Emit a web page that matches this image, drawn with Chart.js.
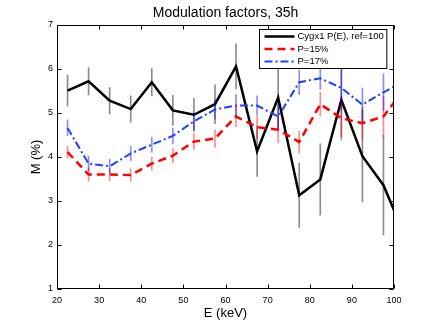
<!DOCTYPE html>
<html>
<head>
<meta charset="utf-8">
<script src="https://cdn.jsdelivr.net/npm/chart.js@4.4.1/dist/chart.umd.min.js"></script>
<style>
  html, body { margin: 0; padding: 0; background: #fff; }
</style>
</head>
<body>
<canvas id="chart" width="436" height="328"></canvas>
<script>
// energy bins, keV
const energy = [22.5, 27.5, 32.5, 37.5, 42.5, 47.5, 52.5, 57.5, 62.5, 67.5, 72.5, 77.5, 82.5, 87.5, 92.5, 97.5, 100];

// Cygx1 P(E), ref=100
const cygx1    = [5.51, 5.72, 5.28, 5.09, 5.70, 5.06, 4.96, 5.20, 6.06, 4.13, 5.35, 3.13, 3.49, 5.30, 4.02, 3.36, 2.79];
const cygx1Err = [0.35, 0.31, 0.30, 0.30, 0.31, 0.34, 0.38, 0.44, 0.51, 0.57, 0.68, 0.73, 0.81, 0.85, 1.04, 1.13, null];

// P=15%
const p15    = [4.11, 3.60, 3.60, 3.59, 3.85, 4.03, 4.35, 4.42, 4.92, 4.68, 4.62, 4.34, 5.20, 4.88, 4.77, 4.92, 5.24];
const p15Err = [0.13, 0.15, 0.14, 0.14, 0.15, 0.16, 0.18, 0.20, 0.23, 0.25, 0.30, 0.25, 0.27, 0.50, 0.37, 0.46, null];

// P=17%
const p17    = [4.66, 3.85, 3.79, 4.08, 4.28, 4.48, 4.81, 5.08, 5.17, 5.17, 4.92, 5.70, 5.79, 5.57, 5.19, 5.47, 5.60];
const p17Err = [0.18, 0.17, 0.16, 0.16, 0.17, 0.18, 0.20, 0.22, 0.25, 0.22, 0.28, 0.28, 0.25, 0.50, 0.38, 0.42, null];

const labels = ['Cygx1 P(E), ref=100', 'P=15%', 'P=17%'];

const FONT = "'Liberation Sans', Arial, Helvetica, sans-serif";
Chart.defaults.font.family = FONT;
Chart.defaults.color = '#000';

function points(vals) {
  return energy.map((e, i) => ({ x: e, y: vals[i] }));
}
// error bars as floating 1px bars
function errBars(vals, errs) {
  return energy
    .map((e, i) => errs[i] == null ? null : { x: e, y: [vals[i] - errs[i], vals[i] + errs[i]] })
    .filter(Boolean);
}

// matlab style box with inward ticks
const frame = {
  id: 'frame',
  afterDraw(chart) {
    const { ctx, chartArea: a, scales: { x, y } } = chart;
    const L = Math.round(a.left) + 0.5, R = Math.round(a.right) - 0.5;
    const T = Math.round(a.top) + 0.5, B = Math.round(a.bottom) - 0.5;
    ctx.save();
    ctx.strokeStyle = '#000';
    ctx.lineWidth = 1;
    ctx.beginPath();
    x.ticks.forEach(t => {
      const px = Math.round(x.getPixelForValue(t.value)) + 0.5;
      ctx.moveTo(px, B); ctx.lineTo(px, B - 4);
      ctx.moveTo(px, T); ctx.lineTo(px, T + 4);
    });
    y.ticks.forEach(t => {
      const py = Math.round(y.getPixelForValue(t.value)) + 0.5;
      ctx.moveTo(L, py); ctx.lineTo(L + 4, py);
      ctx.moveTo(R, py); ctx.lineTo(R - 4, py);
    });
    ctx.stroke();
    ctx.strokeRect(L, T, R - L, B - T);
    ctx.restore();
  }
};

// legend box in the upper right corner of the axes
const legendBox = {
  id: 'legendBox',
  afterDraw(chart) {
    const { ctx, chartArea: a } = chart;
    const items = chart.data.datasets.filter(d => d.type === 'line');
    ctx.save();
    ctx.font = '9.5px ' + FONT;
    const tw = Math.max(...items.map(d => ctx.measureText(d.label).width));
    const w = 38 + tw + 3, h = 39;
    const x0 = Math.round(a.right - 8 - w) + 0.5, y0 = Math.round(a.top + 4) + 0.5;
    ctx.fillStyle = '#fff';
    ctx.fillRect(x0, y0, w, h);
    ctx.strokeStyle = '#000';
    ctx.lineWidth = 1;
    ctx.strokeRect(x0, y0, w, h);
    items.forEach((d, i) => {
      const yy = y0 + 7 + i * 12.5;
      ctx.beginPath();
      ctx.strokeStyle = d.borderColor;
      ctx.lineWidth = d.borderWidth;
      ctx.setLineDash(d.borderDash || []);
      ctx.moveTo(x0 + 5, yy);
      ctx.lineTo(x0 + 35, yy);
      ctx.stroke();
      ctx.setLineDash([]);
      ctx.fillStyle = '#000';
      ctx.textBaseline = 'middle';
      ctx.fillText(d.label, x0 + 38, yy);
    });
    ctx.restore();
  }
};

new Chart(document.getElementById('chart'), {
  data: {
    datasets: [
      { type: 'bar', data: errBars(cygx1, cygx1Err), backgroundColor: 'rgba(0,0,0,0.45)', barThickness: 1, grouped: false, order: 6 },
      { type: 'line', label: labels[0], data: points(cygx1), borderColor: '#000', borderWidth: 2.5, pointRadius: 0, tension: 0, order: 5 },
      { type: 'bar', data: errBars(p15, p15Err), backgroundColor: 'rgba(255,0,0,0.45)', barThickness: 1, grouped: false, order: 4 },
      { type: 'line', label: labels[1], data: points(p15), borderColor: '#ff0000', borderWidth: 2.5, borderDash: [8, 5], pointRadius: 0, tension: 0, order: 3 },
      { type: 'bar', data: errBars(p17, p17Err), backgroundColor: 'rgba(0,0,255,0.45)', barThickness: 1, grouped: false, order: 2 },
      { type: 'line', label: labels[2], data: points(p17), borderColor: '#2040ff', borderWidth: 2, borderDash: [8, 3, 2, 3], pointRadius: 0, tension: 0, order: 1 }
    ]
  },
  options: {
    responsive: false,
    animation: false,
    layout: { padding: { left: 0, right: 42, top: 0, bottom: 0 } },
    plugins: {
      legend: { display: false },
      tooltip: { enabled: false },
      title: {
        display: true,
        text: 'Modulation factors, 35h',
        fullSize: false,
        color: '#000',
        font: { size: 14, weight: 'normal' },
        padding: { top: 5, bottom: 3.2 }
      }
    },
    scales: {
      x: {
        type: 'linear', min: 20, max: 100, offset: false,
        grid: { display: false, drawTicks: false, offset: false },
        border: { display: false },
        ticks: { stepSize: 10, font: { size: 9 }, color: '#000', padding: 6, maxRotation: 0 },
        title: { display: true, text: 'E (keV)', font: { size: 13 }, color: '#000', padding: { top: 0, bottom: 6.6 } },
        afterFit(s) { s.height = 39; }
      },
      y: {
        type: 'linear', min: 1, max: 7,
        grid: { display: false, drawTicks: false },
        border: { display: false },
        ticks: { stepSize: 1, font: { size: 9 }, color: '#000', padding: 4 },
        title: { display: true, text: 'M (%)', font: { size: 13 }, color: '#000', padding: { top: 28.6, bottom: 0 } },
        afterFit(s) { s.width = 57; }
      }
    }
  },
  plugins: [frame, legendBox]
});
</script>
</body>
</html>
